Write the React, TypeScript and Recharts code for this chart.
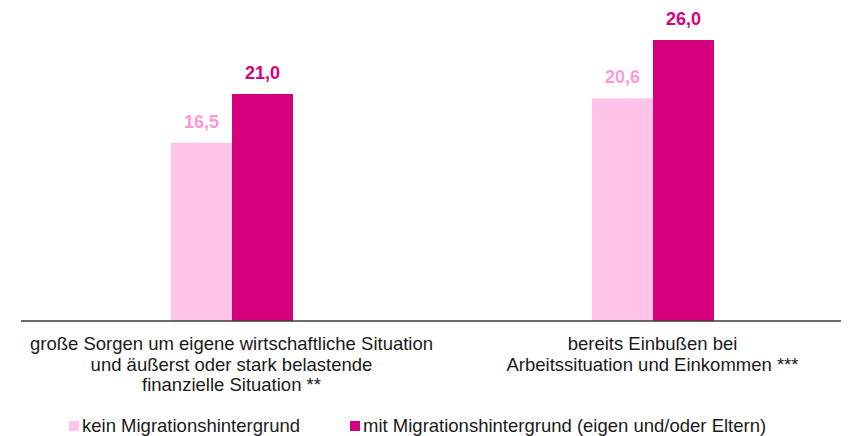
import { Bar, BarChart, LabelList, Legend, XAxis, YAxis } from "recharts";

const categories = [
  ["große Sorgen um eigene wirtschaftliche Situation", "und äußerst oder stark belastende", "finanzielle Situation **"],
  ["bereits Einbußen bei", "Arbeitssituation und Einkommen ***"],
];
const keinMigration = [16.5, 20.6];
const mitMigration = [21.0, 26.0];

const seriesNames = {
  kein: "kein Migrationshintergrund",
  mit: "mit Migrationshintergrund (eigen und/oder Eltern)",
};

const LIGHT = "#ffc4e8";
const LIGHT_LABEL = "#ff99d5";
const DARK = "#d6007e";
const FONT = "'Liberation Sans', Arial, sans-serif";

const data = categories.map((lines, i) => ({
  key: String(i),
  lines,
  kein: keinMigration[i],
  mit: mitMigration[i],
}));

const fmt = (v: unknown) => Number(v).toFixed(1).replace(".", ",");

function CategoryTick(props: any) {
  const { x, y, payload } = props;
  const lines: string[] = categories[Number(payload.value)] ?? [];
  return (
    <text x={x} y={y} textAnchor="middle" fill="#1a1a1a" fontSize={18.5} fontFamily={FONT}>
      {lines.map((line, i) => (
        <tspan key={i} x={x} dy={i === 0 ? 21 : 20.5}>
          {line}
        </tspan>
      ))}
    </text>
  );
}

function LegendContent(props: any) {
  const items = props.payload ?? [];
  return (
    <div style={{ display: "flex", height: 20, alignItems: "center", paddingLeft: 61, gap: 50, fontFamily: FONT, fontSize: 18.5, color: "#1a1a1a" }}>
      {items.map((it: any) => (
        <div key={it.value} style={{ display: "flex", alignItems: "center", gap: 3 }}>
          <span style={{ display: "inline-block", width: 10, height: 10, background: it.color }} />
          <span>{it.value}</span>
        </div>
      ))}
    </div>
  );
}

export default function App() {
  return (
    <div style={{ width: 841, height: 428, overflow: "hidden" }}>
      <BarChart
        width={870}
        height={428}
        data={data}
        margin={{ top: 32, right: 15, left: 13, bottom: 0 }}
        barGap={0}
        barSize={61}
      >
        <XAxis
          dataKey="key"
          axisLine={{ stroke: "#3a3a3a", strokeWidth: 1.5 }}
          tickLine={false}
          tick={<CategoryTick />}
          height={95}
          interval={0}
        />
        <YAxis hide domain={[0, 26]} />
        <Legend
          verticalAlign="bottom"
          content={<LegendContent />}
          wrapperStyle={{ left: 0, width: 841 }}
        />
        <Bar dataKey="kein" name={seriesNames.kein} fill={LIGHT} isAnimationActive={false}>
          <LabelList
            dataKey="kein"
            position="top"
            offset={15}
            formatter={fmt}
            fill={LIGHT_LABEL}
            fontSize={18}
            fontWeight="bold"
            fontFamily={FONT}
          />
        </Bar>
        <Bar dataKey="mit" name={seriesNames.mit} fill={DARK} isAnimationActive={false}>
          <LabelList
            dataKey="mit"
            position="top"
            offset={15}
            formatter={fmt}
            fill={DARK}
            fontSize={18}
            fontWeight="bold"
            fontFamily={FONT}
          />
        </Bar>
      </BarChart>
    </div>
  );
}
